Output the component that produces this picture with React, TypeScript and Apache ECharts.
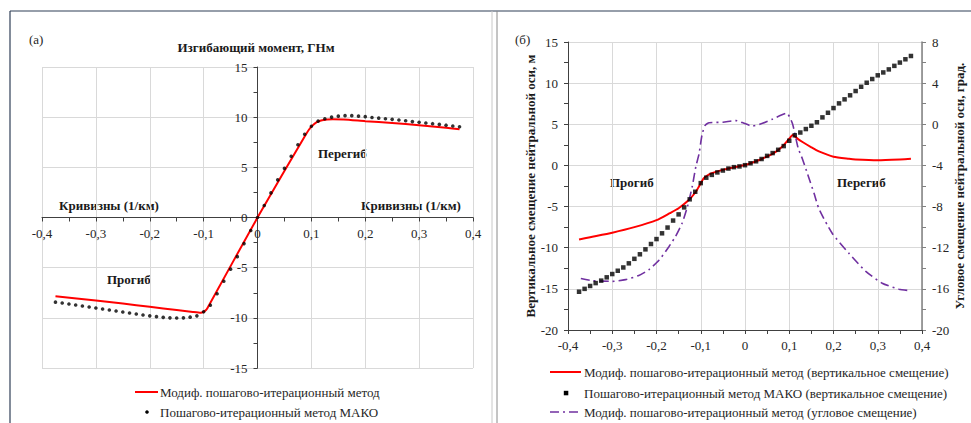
import React, { useEffect, useRef } from "react";
import * as echarts from "echarts";

const FONT = "Liberation Serif, Times New Roman, serif";

// ---------- Panel (а): bending moment vs curvature ----------
const CURVATURE_GRID = [
  -0.375, -0.3625, -0.35, -0.3375, -0.325, -0.3125, -0.3, -0.2875, -0.275, -0.2625,
  -0.25, -0.2375, -0.225, -0.2125, -0.2, -0.1875, -0.175, -0.1625, -0.15, -0.1375,
  -0.125, -0.1125, -0.1, -0.0875, -0.075, -0.0625, -0.05, -0.0375, -0.025, -0.0125,
  0,
  0.0125, 0.025, 0.0375, 0.05, 0.0625, 0.075, 0.0875, 0.1, 0.1125, 0.125,
  0.1375, 0.15, 0.1625, 0.175, 0.1875, 0.2, 0.2125, 0.225, 0.2375, 0.25,
  0.2625, 0.275, 0.2875, 0.3, 0.3125, 0.325, 0.3375, 0.35, 0.3625, 0.375,
];

const momentMakoY = [
  -8.44, -8.52, -8.62, -8.72, -8.82, -8.92, -9.02, -9.12, -9.22, -9.32,
  -9.42, -9.52, -9.62, -9.72, -9.8, -9.88, -9.95, -10.0, -10.02, -10.0,
  -9.93, -9.8, -9.4, -8.74, -7.6, -6.35, -5.15, -3.9, -2.6, -1.3,
  0,
  1.2, 2.45, 3.75, 4.9, 6.1, 7.25, 8.3, 9.1, 9.6, 9.84,
  10.0, 10.1, 10.15, 10.15, 10.1, 10.05, 9.97, 9.9, 9.84, 9.78,
  9.72, 9.64, 9.56, 9.49, 9.42, 9.35, 9.28, 9.2, 9.12, 9.04,
];

const momentModX = [-0.375, -0.3, -0.25, -0.2, -0.15, -0.12, -0.105, -0.095, -0.09, 0, 0.09, 0.1, 0.11, 0.12, 0.14, 0.16, 0.2, 0.25, 0.3, 0.35, 0.375];
const momentModY = [-7.85, -8.28, -8.58, -8.9, -9.22, -9.42, -9.5, -9.2, -8.75, 0, 8.3, 9.05, 9.5, 9.7, 9.78, 9.76, 9.6, 9.42, 9.2, 8.95, 8.8];

// ---------- Panel (б): displacements ----------
const vertMakoY = [
  -15.35, -15.0, -14.65, -14.3, -14.0, -13.6, -13.2, -12.8, -12.4, -11.9,
  -11.35, -10.8, -10.2, -9.55, -8.95, -8.25, -7.55, -6.7, -5.95, -5.1,
  -4.12, -3.2, -2.15, -1.49, -1.15, -0.85, -0.62, -0.38, -0.21, -0.12,
  0.03,
  0.26, 0.5, 0.78, 1.16, 1.5, 1.9, 2.35, 3.0, 3.66, 4.0,
  4.42, 4.82, 5.25, 5.84, 6.4, 6.97, 7.54, 8.03, 8.52, 9.04,
  9.56, 10.05, 10.5, 10.95, 11.3, 11.67, 12.1, 12.5, 12.9, 13.3,
];

const vertModX = [-0.375, -0.35, -0.3, -0.25, -0.2, -0.17, -0.15, -0.127, -0.111, -0.104, -0.093, -0.08, -0.066, -0.04, 0, 0.032, 0.062, 0.084, 0.1, 0.108, 0.12, 0.13, 0.15, 0.167, 0.2, 0.235, 0.25, 0.3, 0.35, 0.375];
const vertModY = [-9.0, -8.72, -8.17, -7.5, -6.65, -5.8, -5.2, -4.2, -3.2, -2.55, -1.55, -1.05, -0.78, -0.4, 0.05, 0.66, 1.39, 2.27, 3.25, 3.7, 3.2, 2.85, 2.2, 1.7, 1.06, 0.8, 0.72, 0.63, 0.72, 0.8];

const angleModX = [-0.371, -0.345, -0.3, -0.27, -0.24, -0.217, -0.194, -0.172, -0.157, -0.142, -0.13, -0.119, -0.111, -0.104, -0.097, -0.09, -0.081, -0.05, -0.021, -0.002, 0.016, 0.035, 0.062, 0.094, 0.107, 0.12, 0.13, 0.145, 0.156, 0.167, 0.197, 0.235, 0.273, 0.31, 0.348, 0.372];
const angleModY = [-15.0, -15.2, -15.27, -15.1, -14.7, -14.13, -13.2, -11.9, -10.9, -9.6, -8.0, -6.0, -4.1, -2.9, -1.0, -0.1, 0.15, 0.2, 0.36, 0.1, -0.17, 0.03, 0.5, 1.07, 0.1, -2.3, -3.4, -5.3, -6.7, -8.2, -10.6, -12.55, -14.3, -15.45, -16.03, -16.17];

const zip = (xs: number[], ys: number[]) => xs.map((x, i) => [x, ys[i]]);
const fmtX = (v: number) => (v === 0 ? "0" : String(Math.round(v * 10) / 10).replace(".", ","));

const LABEL = { fontFamily: FONT, fontSize: 13, color: "#262626" };
const GRIDLINE = { show: true, lineStyle: { color: "#d9d9d9", width: 1 } };

// grid geometry of panel (а)
const G0 = { left: 42, top: 67, width: 431, height: 301 };

function buildOption(): any {
  const boldText = (text: string, x: number, y: number, align = "left") => ({
    type: "text",
    x,
    y,
    style: { text, font: `bold 13px ${FONT}`, fill: "#1a1a1a", textAlign: align, textVerticalAlign: "middle" },
  });
  const plainText = (text: string, x: number, y: number) => ({
    type: "text",
    x,
    y,
    style: { text, font: `13px ${FONT}`, fill: "#262626", textAlign: "left", textVerticalAlign: "middle" },
  });
  const line = (x1: number, y1: number, x2: number, y2: number, stroke: string, lineWidth = 1, lineDash?: number[]) => ({
    type: "line",
    shape: { x1, y1, x2, y2 },
    style: { stroke, lineWidth, lineDash },
  });

  return {
    animation: false,
    backgroundColor: "#ffffff",
    grid: [
      { ...G0 },
      { left: 568, top: 42, width: 354, height: 288 },
    ],
    xAxis: [
      {
        gridIndex: 0,
        type: "value",
        min: -0.4,
        max: 0.4,
        interval: 0.1,
        position: "bottom",
        offset: -G0.height / 2,
        axisLine: { onZero: false, lineStyle: { color: "#404040", width: 1 } },
        axisTick: { show: true, length: 4, lineStyle: { color: "#404040" } },
        minorTick: { show: true, splitNumber: 2, length: 4, lineStyle: { color: "#404040" } },
        axisLabel: { ...LABEL, margin: 9, formatter: fmtX },
        splitLine: GRIDLINE,
      },
      {
        gridIndex: 1,
        type: "value",
        min: -0.4,
        max: 0.4,
        interval: 0.1,
        axisLine: { onZero: false, lineStyle: { color: "#404040", width: 1 } },
        axisTick: { show: true, length: 4, lineStyle: { color: "#404040" } },
        minorTick: { show: true, splitNumber: 2, length: 4, lineStyle: { color: "#404040" } },
        axisLabel: { ...LABEL, margin: 9, formatter: fmtX },
        splitLine: GRIDLINE,
      },
    ],
    yAxis: [
      {
        gridIndex: 0,
        type: "value",
        min: -15,
        max: 15,
        interval: 5,
        position: "left",
        offset: -G0.width / 2,
        axisLine: { show: true, onZero: false, lineStyle: { color: "#404040", width: 1 } },
        axisTick: { show: true, length: 4, lineStyle: { color: "#404040" } },
        minorTick: { show: true, splitNumber: 2, length: 4, lineStyle: { color: "#404040" } },
        axisLabel: { ...LABEL, margin: 10 },
        splitLine: GRIDLINE,
      },
      {
        gridIndex: 1,
        type: "value",
        min: -20,
        max: 15,
        interval: 5,
        position: "left",
        name: "Вертикальное смещение нейтральной оси, м",
        nameLocation: "middle",
        nameRotate: 90,
        nameGap: 30,
        nameTextStyle: { fontFamily: FONT, fontSize: 13, fontWeight: "bold", color: "#1a1a1a" },
        axisLine: { show: true, onZero: false, lineStyle: { color: "#404040", width: 1 } },
        axisTick: { show: true, length: 4, lineStyle: { color: "#404040" } },
        minorTick: { show: true, splitNumber: 2, length: 4, lineStyle: { color: "#404040" } },
        axisLabel: { ...LABEL, margin: 10 },
        splitLine: GRIDLINE,
      },
      {
        gridIndex: 1,
        type: "value",
        min: -20,
        max: 8,
        interval: 4,
        position: "right",
        name: "Угловое смещение нейтральной оси, град.",
        nameLocation: "middle",
        nameRotate: 90,
        nameGap: 30,
        nameTextStyle: { fontFamily: FONT, fontSize: 13, fontWeight: "bold", color: "#1a1a1a" },
        axisLine: { show: true, onZero: false, lineStyle: { color: "#808080", width: 1.5 } },
        axisTick: { show: true, length: 4, lineStyle: { color: "#808080" } },
        minorTick: { show: true, splitNumber: 2, length: 4, lineStyle: { color: "#808080" } },
        axisLabel: { ...LABEL, margin: 10 },
        splitLine: { show: false },
      },
    ],
    series: [
      {
        name: "Модиф. пошагово-итерационный метод",
        type: "line",
        xAxisIndex: 0,
        yAxisIndex: 0,
        data: zip(momentModX, momentModY),
        showSymbol: false,
        smooth: 0.2,
        lineStyle: { color: "#ff0000", width: 2 },
        z: 3,
      },
      {
        name: "Пошагово-итерационный метод МАКО",
        type: "scatter",
        xAxisIndex: 0,
        yAxisIndex: 0,
        data: zip(CURVATURE_GRID, momentMakoY),
        symbol: "circle",
        symbolSize: 3.6,
        itemStyle: { color: "#000000" },
        z: 4,
      },
      {
        name: "Модиф. пошагово-итерационный метод (вертикальное смещение)",
        type: "line",
        xAxisIndex: 1,
        yAxisIndex: 1,
        data: zip(vertModX, vertModY),
        showSymbol: false,
        smooth: 0.2,
        lineStyle: { color: "#ff0000", width: 2 },
        z: 3,
      },
      {
        name: "Пошагово-итерационный метод МАКО (вертикальное смещение)",
        type: "scatter",
        xAxisIndex: 1,
        yAxisIndex: 1,
        data: zip(CURVATURE_GRID, vertMakoY),
        symbol: "rect",
        symbolSize: 4.5,
        itemStyle: { color: "#000000" },
        z: 4,
      },
      {
        name: "Модиф. пошагово-итерационный метод (угловое смещение)",
        type: "line",
        xAxisIndex: 1,
        yAxisIndex: 2,
        data: zip(angleModX, angleModY),
        showSymbol: false,
        smooth: 0.2,
        lineStyle: { color: "#7030a0", width: 1.6, type: [9, 4, 2, 4] },
        z: 3,
      },
    ],
    graphic: [
      // frame
      line(10, 11, 971, 11, "#2f3f57", 1.2),
      line(10, 11, 10, 423, "#2f3f57", 1.2),
      line(492, 11, 492, 423, "#c8c8c8", 1),
      line(497, 11, 497, 423, "#8a8a8a", 1),
      // panel (а)
      plainText("(а)", 29, 39),
      boldText("Изгибающий момент, ГНм", 256, 47, "center"),
      boldText("Кривизны (1/км)", 59, 205),
      boldText("Кривизны (1/км)", 361, 205),
      boldText("Перегиб", 318, 153),
      boldText("Прогиб", 107, 279),
      line(135, 392, 158, 392, "#ff0000", 2),
      plainText("Модиф. пошагово-итерационный метод", 160, 392),
      { type: "circle", shape: { cx: 147, cy: 412, r: 1.8 }, style: { fill: "#000" } },
      plainText("Пошагово-итерационный метод МАКО", 160, 412),
      // panel (б)
      plainText("(б)", 515, 39),
      boldText("Прогиб", 610, 182),
      boldText("Перегиб", 837, 182),
      line(550, 372, 581, 372, "#ff0000", 2),
      plainText("Модиф. пошагово-итерационный метод (вертикальное смещение)", 584, 372),
      { type: "rect", shape: { x: 563.8, y: 390.8, width: 4.5, height: 4.5 }, style: { fill: "#000" } },
      plainText("Пошагово-итерационный метод МАКО (вертикальное смещение)", 584, 393),
      line(550, 412, 581, 412, "#7030a0", 1.6, [9, 4, 2, 4]),
      plainText("Модиф. пошагово-итерационный метод (угловое смещение)", 584, 412),
    ],
  };
}

export default function App() {
  const ref = useRef<HTMLDivElement>(null);
  useEffect(() => {
    if (!ref.current) return;
    const chart = echarts.init(ref.current, null, { renderer: "svg" });
    chart.setOption(buildOption());
    return () => chart.dispose();
  }, []);
  return (
    <div
      ref={ref}
      style={{ position: "fixed", left: 0, top: 0, width: 971, height: 423, background: "#ffffff" }}
    />
  );
}
